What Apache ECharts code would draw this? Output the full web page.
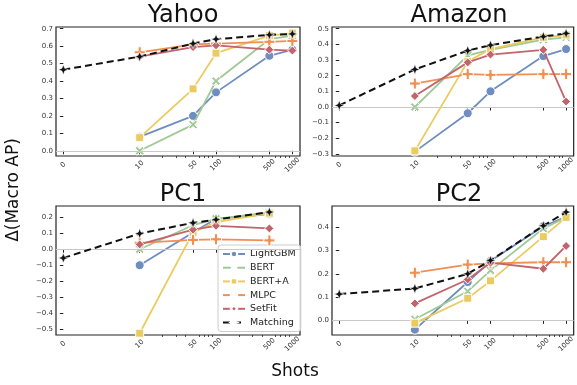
<!DOCTYPE html>
<html>
<head>
<meta charset="utf-8">
<script src="https://cdn.jsdelivr.net/npm/echarts@6/dist/echarts.min.js"></script>
<style>
  html, body { margin: 0; padding: 0; background: #fff; }
  #main { width: 577px; height: 385px; }
</style>
</head>
<body>
<div id="main"></div>
<script>
  /* 데이터 */
  var shots = [0, 10, 50, 100, 500, 1000];
  var shotLabels = ['0', '10', '50', '100', '500', '1000'];
  var minorShots = [20, 30, 40, 60, 70, 80, 90, 200, 300, 400, 600, 700, 800, 900];
  var methods = ['LightGBM', 'BERT', 'BERT+A', 'MLPC', 'SetFit', 'Matching'];
  var panels = ['Yahoo', 'Amazon', 'PC1', 'PC2'];

  var yahooLightGBM = [null, 0.08, 0.20, 0.335, 0.545, 0.58];
  var yahooBERT     = [null, 0.0, 0.15, 0.40, 0.64, 0.66];
  var yahooBERTA    = [null, 0.075, 0.355, 0.56, 0.66, 0.675];
  var yahooMLPC     = [null, 0.565, 0.61, 0.615, 0.625, 0.63];
  var yahooSetFit   = [null, 0.54, 0.595, 0.605, 0.58, 0.575];
  var yahooMatching = [0.465, 0.54, 0.615, 0.64, 0.665, 0.67];

  var amazonLightGBM = [null, -0.285, -0.04, 0.10, 0.325, 0.37];
  var amazonBERT     = [null, 0.0, 0.33, 0.365, 0.43, 0.445];
  var amazonBERTA    = [null, -0.28, 0.29, 0.37, 0.445, 0.46];
  var amazonMLPC     = [null, 0.15, 0.21, 0.205, 0.21, 0.21];
  var amazonSetFit   = [null, 0.07, 0.285, 0.335, 0.365, 0.035];
  var amazonMatching = [0.01, 0.24, 0.36, 0.395, 0.45, 0.47];

  var pc1LightGBM = [null, -0.10, 0.105, 0.19, 0.22, null];
  var pc1BERT     = [null, 0.0, 0.15, 0.19, 0.23, null];
  var pc1BERTA    = [null, -0.525, 0.105, 0.17, 0.225, null];
  var pc1MLPC     = [null, 0.04, 0.058, 0.062, 0.055, null];
  var pc1SetFit   = [null, 0.03, 0.122, 0.146, 0.13, null];
  var pc1Matching = [-0.055, 0.098, 0.165, 0.185, 0.232, null];

  var pc2LightGBM = [null, -0.04, 0.165, 0.255, 0.405, 0.445];
  var pc2BERT     = [null, 0.005, 0.125, 0.215, 0.395, 0.443];
  var pc2BERTA    = [null, -0.012, 0.095, 0.17, 0.36, 0.443];
  var pc2MLPC     = [null, 0.205, 0.24, 0.245, 0.25, 0.25];
  var pc2SetFit   = [null, 0.073, 0.176, 0.248, 0.222, 0.32];
  var pc2Matching = [0.113, 0.137, 0.20, 0.258, 0.407, 0.466];

  // y축 눈금
  var yahooTicks  = [0, 0.1, 0.2, 0.3, 0.4, 0.5, 0.6, 0.7];
  var amazonTicks = [-0.3, -0.2, -0.1, 0, 0.1, 0.2, 0.3, 0.4, 0.5];
  var pc1Ticks    = [-0.5, -0.4, -0.3, -0.2, -0.1, 0, 0.1, 0.2];
  var pc2Ticks    = [0, 0.1, 0.2, 0.3, 0.4];

  var panelData = [
    [yahooLightGBM, yahooBERT, yahooBERTA, yahooMLPC, yahooSetFit, yahooMatching],
    [amazonLightGBM, amazonBERT, amazonBERTA, amazonMLPC, amazonSetFit, amazonMatching],
    [pc1LightGBM, pc1BERT, pc1BERTA, pc1MLPC, pc1SetFit, pc1Matching],
    [pc2LightGBM, pc2BERT, pc2BERTA, pc2MLPC, pc2SetFit, pc2Matching]
  ];
  var panelTicks = [yahooTicks, amazonTicks, pc1Ticks, pc2Ticks];

  /* 스타일 */
  var FONT = 'DejaVu Sans';
  var colors = ['#6f8dbf', '#a0c995', '#ebcb5e', '#f08f52', '#c2646c', '#111111'];
  var symbols = [
    'circle',
    'path://M2,0 L5,3 L8,0 L10,2 L7,5 L10,8 L8,10 L5,7 L2,10 L0,8 L3,5 L0,2 Z',
    'rect',
    'path://M3.6,0 H6.4 V3.6 H10 V6.4 H6.4 V10 H3.6 V6.4 H0 V3.6 H3.6 Z',
    'diamond',
    'path://M5,0 L6.4,3.6 L10,5 L6.4,6.4 L5,10 L3.6,6.4 L0,5 L3.6,3.6 Z'
  ];
  var symbolSizes = [9, 9, 8, 11, 9, 10];

  var yRanges = [[-0.03, 0.71], [-0.313, 0.511], [-0.536, 0.27], [-0.063, 0.492]];
  var gridPos = [
    { left: 56, top: 27 }, { left: 332, top: 27 },
    { left: 56, top: 206 }, { left: 332, top: 206 }
  ];

  // symlog 변환 (0~10 선형, 그 이상 로그)
  function shotPos(s) {
    return s <= 10 ? s / 10 : Math.log10(s);
  }
  var shotTickPos = shots.map(shotPos);
  var minorTickPos = minorShots.map(shotPos);

  function shotLabel(v) {
    for (var i = 0; i < shots.length; i++) {
      if (Math.abs(shotTickPos[i] - v) < 1e-6) return shotLabels[i];
    }
    return '';
  }

  function yLabel(v) {
    var s = Math.abs(v).toFixed(1);
    return v < -1e-9 ? '\u2212' + s : s;
  }

  var grids = [], xAxes = [], yAxes = [], titles = [], series = [];

  for (var p = 0; p < 4; p++) {
    grids.push({
      left: gridPos[p].left, top: gridPos[p].top, width: 244, height: 129,
      show: true, borderColor: '#222', borderWidth: 1.2, backgroundColor: 'transparent'
    });
    xAxes.push({
      type: 'value', gridIndex: p, position: 'bottom', min: -0.096, max: 3.1,
      axisLine: { show: false },
      splitLine: { show: false },
      axisTick: { show: true, customValues: shotTickPos, length: 3.5, lineStyle: { color: '#222' } },
      axisLabel: {
        customValues: shotTickPos, formatter: shotLabel, rotate: 45,
        fontFamily: FONT, fontSize: 7, color: '#333', margin: 9,
        align: 'center', verticalAlign: 'middle'
      }
    });
    yAxes.push({
      type: 'value', gridIndex: p, min: yRanges[p][0], max: yRanges[p][1],
      axisLine: { show: false },
      splitLine: { show: false },
      axisTick: { show: true, customValues: panelTicks[p], length: 3.5, lineStyle: { color: '#222' } },
      axisLabel: {
        customValues: panelTicks[p], formatter: yLabel,
        fontFamily: FONT, fontSize: 7, color: '#333', margin: 3
      }
    });
    titles.push({
      text: panels[p],
      left: gridPos[p].left + 122, top: gridPos[p].top - 28, textAlign: 'center',
      textStyle: { fontFamily: FONT, fontSize: 24, fontWeight: 'normal', color: '#111' }
    });

    // 0 기준선
    series.push({
      type: 'line', xAxisIndex: p, yAxisIndex: p, data: [], z: 1, silent: true,
      markLine: {
        silent: true, symbol: 'none', label: { show: false },
        lineStyle: { color: '#c8c8c8', type: 'solid', width: 1 },
        data: [{ yAxis: 0 }]
      }
    });

    for (var m = 0; m < methods.length; m++) {
      var vals = panelData[p][m];
      var pts = [];
      for (var i = 0; i < shots.length; i++) {
        if (vals[i] !== null) pts.push([shotPos(shots[i]), vals[i]]);
      }
      var isMatch = m === 5;
      series.push({
        name: methods[m], type: 'line', xAxisIndex: p, yAxisIndex: p,
        data: pts,
        symbol: symbols[m], symbolSize: symbolSizes[m],
        showAllSymbol: true,
        z: isMatch ? 10 : 3 + m,
        lineStyle: { color: colors[m], width: isMatch ? 2 : 1.8, type: isMatch ? [7, 4] : 'solid' },
        itemStyle: { color: colors[m], borderColor: '#fff', borderWidth: isMatch ? 0.6 : 1 },
        emphasis: { disabled: true },
        animation: false
      });
    }
  }

  // 보조 눈금용 x축
  for (var q = 0; q < 4; q++) {
    xAxes.push({
      type: 'value', gridIndex: q, position: 'bottom', min: -0.096, max: 3.1,
      axisLine: { show: false },
      splitLine: { show: false },
      axisLabel: { show: false },
      axisTick: { show: true, customValues: minorTickPos, length: 2, lineStyle: { color: '#222', width: 0.8 } }
    });
  }

  var myChart = echarts.init(document.getElementById('main'));

  var option = {
    animation: false,
    title: titles,
    grid: grids,
    xAxis: xAxes,
    yAxis: yAxes,
    legend: {
      data: methods,
      orient: 'vertical',
      left: 218, top: 245,
      itemWidth: 22, itemHeight: 8, itemGap: 3.7,
      padding: [4, 5, 4, 4],
      backgroundColor: 'rgba(255,255,255,0.85)',
      borderColor: '#cccccc', borderWidth: 1, borderRadius: 3,
      textStyle: { fontFamily: FONT, fontSize: 9.5, color: '#222' }
    },
    graphic: [
      {
        type: 'text', x: 14, y: 190, rotation: Math.PI / 2,
        style: { text: 'Δ(Macro AP)', fontFamily: FONT, fontSize: 17, fill: '#111', align: 'center', verticalAlign: 'middle' }
      },
      {
        type: 'text', x: 295, y: 372,
        style: { text: 'Shots', fontFamily: FONT, fontSize: 17, fill: '#111', align: 'center', verticalAlign: 'middle' }
      }
    ],
    series: series
  };

  myChart.setOption(option);
</script>
</body>
</html>
